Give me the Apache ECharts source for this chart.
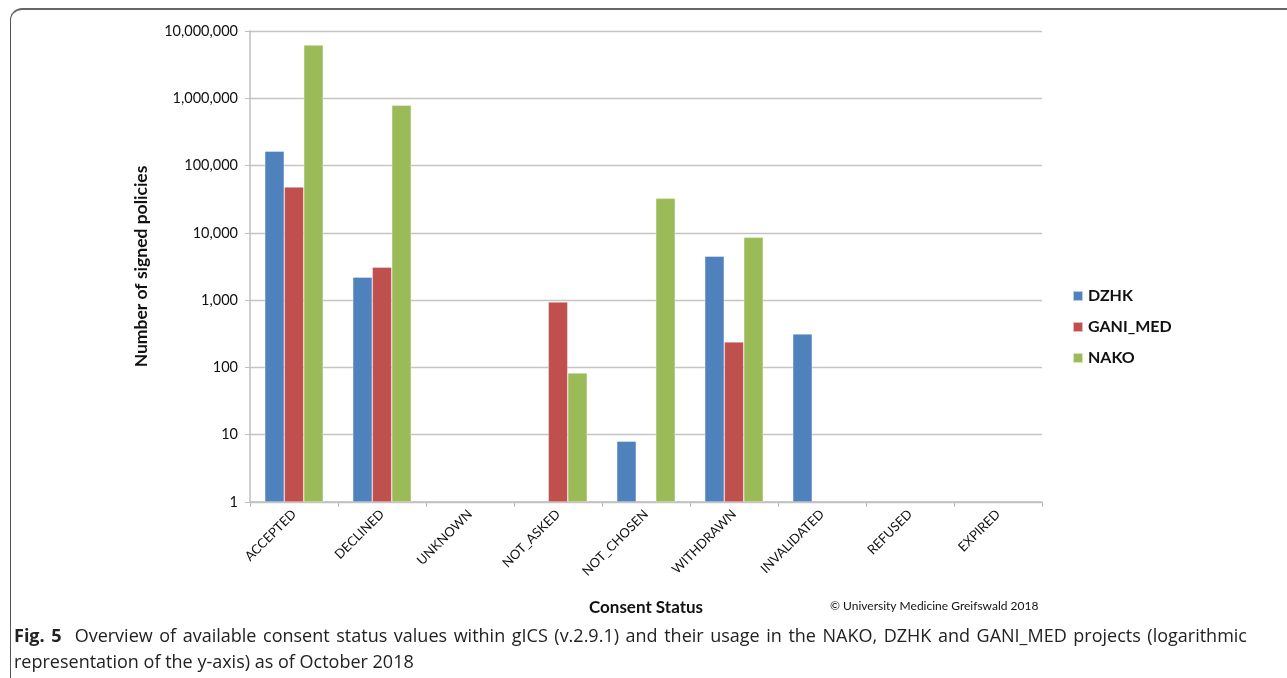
<!DOCTYPE html>
<html>
<head>
<meta charset="utf-8">
<script src="https://cdn.jsdelivr.net/npm/echarts@6/dist/echarts.min.js"></script>
<style>
  html, body { margin:0; padding:0; background:#fff; width:1287px; height:678px; overflow:hidden; }
  #frame { position:absolute; left:10px; top:8px; width:1300px; height:700px; border-left:1.5px solid #555; border-top:2px solid #666; border-top-left-radius:12px; }
  #chart { position:absolute; left:0; top:0; width:1287px; height:678px; }
  #caption { position:absolute; left:14px; top:622px; width:1233px; font-family:"Open Sans", sans-serif; font-size:18px; line-height:26px; color:#222; }
  #caption .l1 { text-align:justify; text-align-last:justify; white-space:nowrap; }
  #caption b { font-weight:700; }
</style>
</head>
<body>
<div id="frame"></div>
<div id="chart"></div>
<div id="caption"><div class="l1"><b>Fig. 5</b>&nbsp; Overview of available consent status values within gICS (v.2.9.1) and their usage in the NAKO, DZHK and GANI_MED projects (logarithmic</div><div>representation of the y-axis) as of October 2018</div></div>
<script>
const categories = ['ACCEPTED','DECLINED','UNKNOWN','NOT_ASKED','NOT_CHOSEN','WITHDRAWN','INVALIDATED','REFUSED','EXPIRED'];
const dzhk    = [164000, 2200, null, null, 8, 4500, 315, null, null];
const ganiMed = [48000, 3100, null, 940, null, 240, null, null, null];
const nako    = [6200000, 790000, null, 83, 32600, 8600, null, null, null];
const seriesNames = ['DZHK','GANI_MED','NAKO'];
const colors = ['#4F81BD','#C0504D','#9BBB59'];

const chart = echarts.init(document.getElementById('chart'));
const fmt = v => Number(v).toLocaleString('en-US');
const mk = (name, data, i) => ({
  name, type:'bar', data, barWidth:19.5, barGap:'0%',
  itemStyle:{ color:colors[i], borderColor:'rgba(255,255,255,0.6)', borderWidth:0.6 },
  emphasis:{ disabled:true }
});
chart.setOption({
  animation:false,
  textStyle:{ fontFamily:'Lato, "Open Sans", sans-serif' },
  grid:{ left:250, right:245, top:31, bottom:176 },
  legend:{
    orient:'vertical', left:1067, top:283, itemWidth:10, itemHeight:10, itemGap:15, icon:'rect',
    textStyle:{ fontSize:16, fontWeight:'bold', color:'#111', fontFamily:'Lato, sans-serif' },
    data: seriesNames
  },
  xAxis:{
    type:'category', data:categories,
    name:'Consent Status', nameLocation:'middle', nameGap:97,
    nameTextStyle:{ fontSize:17, fontWeight:'bold', color:'#111' },
    axisLine:{ lineStyle:{ color:'#bfbfbf', width:1.5 } },
    axisTick:{ show:true, length:5, lineStyle:{ color:'#bfbfbf' } },
    axisLabel:{ rotate:45, fontSize:13, color:'#111', margin:10, interval:0 }
  },
  yAxis:{
    type:'log', logBase:10, min:1, max:10000000,
    name:'Number of signed policies', nameLocation:'middle', nameGap:100,
    nameTextStyle:{ fontSize:17.5, fontWeight:'bold', color:'#111' },
    axisLine:{ show:true, lineStyle:{ color:'#bfbfbf', width:1.5 } },
    axisTick:{ show:true, length:5, lineStyle:{ color:'#bfbfbf' } },
    splitLine:{ lineStyle:{ color:'#c4c4c4', width:1.3 } },
    axisLabel:{ fontSize:14.5, color:'#111', margin:12, formatter:fmt }
  },
  graphic:[{
    type:'text', left:830, top:600,
    style:{ text:'© University Medicine Greifswald 2018', fontSize:12, fill:'#111', fontFamily:'Lato, sans-serif' }
  }],
  series:[ mk(seriesNames[0], dzhk, 0), mk(seriesNames[1], ganiMed, 1), mk(seriesNames[2], nako, 2) ]
});
</script>
</body>
</html>
